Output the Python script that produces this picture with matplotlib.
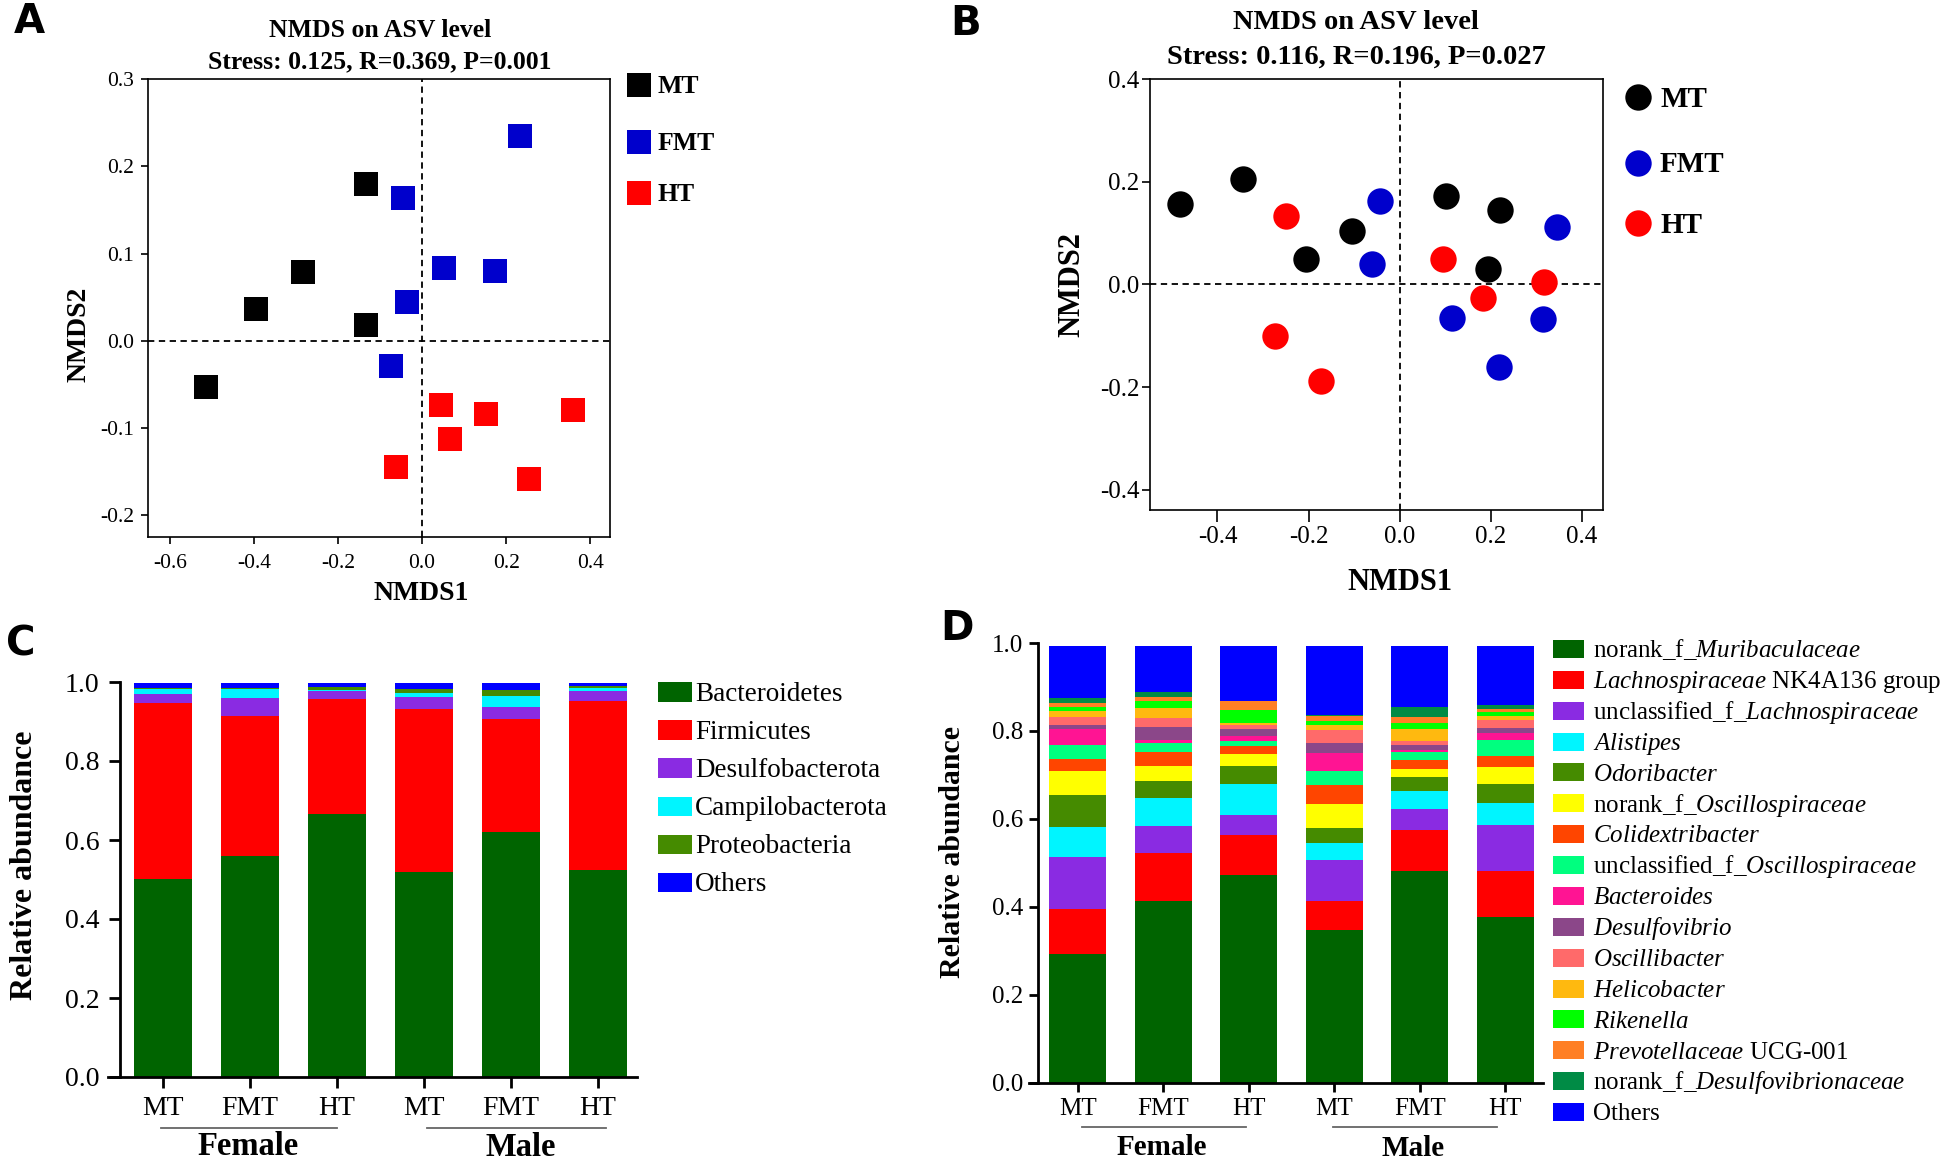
import numpy as np
import matplotlib.pyplot as plt
from matplotlib.lines import Line2D
from matplotlib.patches import Rectangle

plt.rcParams['font.family'] = ['Liberation Serif', 'DejaVu Serif']
plt.rcParams['axes.unicode_minus'] = False
plt.rcParams['mathtext.fontset'] = 'custom'
plt.rcParams['mathtext.rm'] = 'Liberation Serif'
plt.rcParams['mathtext.it'] = 'Liberation Serif:italic'

W, H = 1960, 1163

#%% NMDS scores, panel A (squares)
a_mt_x = [-0.133, -0.284, -0.394, -0.133, -0.514]
a_mt_y = [0.180, 0.079, 0.037, 0.018, -0.053]
a_fmt_x = [0.234, -0.046, 0.053, 0.173, -0.036, -0.074]
a_fmt_y = [0.235, 0.164, 0.084, 0.080, 0.044, -0.029]
a_ht_x = [0.044, 0.152, 0.359, 0.067, -0.062, 0.255]
a_ht_y = [-0.073, -0.084, -0.079, -0.112, -0.144, -0.158]

#%% NMDS scores, panel B (circles)
b_mt_x = [-0.482, -0.344, -0.206, -0.104, 0.101, 0.220, 0.194]
b_mt_y = [0.157, 0.206, 0.050, 0.105, 0.172, 0.145, 0.031]
b_fmt_x = [-0.044, -0.061, 0.344, 0.115, 0.315, 0.218]
b_fmt_y = [0.163, 0.040, 0.112, -0.066, -0.068, -0.160]
b_ht_x = [-0.249, 0.094, 0.317, 0.183, -0.273, -0.173]
b_ht_y = [0.134, 0.049, 0.004, -0.026, -0.101, -0.188]

group_names = ['MT', 'FMT', 'HT']
group_colors = ['#000000', '#0000CC', '#FF0000']

#%% Phylum level, panel C (Female MT, FMT, HT, Male MT, FMT, HT)
bar_labels = ['MT', 'FMT', 'HT', 'MT', 'FMT', 'HT']
bacteroidetes = [0.502, 0.559, 0.667, 0.520, 0.620, 0.524]
firmicutes = [0.444, 0.356, 0.289, 0.412, 0.286, 0.428]
desulfobacterota = [0.023, 0.044, 0.020, 0.029, 0.030, 0.024]
campilobacterota = [0.013, 0.023, 0.005, 0.012, 0.029, 0.009]
proteobacteria = [0.002, 0.002, 0.006, 0.009, 0.015, 0.005]
others_phylum = [0.013, 0.013, 0.010, 0.015, 0.017, 0.007]

phylum_names = ['Bacteroidetes', 'Firmicutes', 'Desulfobacterota',
                'Campilobacterota', 'Proteobacteria', 'Others']
phylum_colors = ['#006400', '#FF0000', '#8A2BE2', '#00F5FF', '#458B00', '#0000FF']

#%% Genus level, panel D
muribaculaceae = [0.293, 0.412, 0.471, 0.348, 0.482, 0.377]
lachno_nk4a136 = [0.101, 0.110, 0.093, 0.066, 0.092, 0.104]
uncl_lachno = [0.120, 0.061, 0.044, 0.093, 0.048, 0.106]
alistipes = [0.067, 0.064, 0.071, 0.039, 0.041, 0.049]
odoribacter = [0.074, 0.038, 0.042, 0.034, 0.032, 0.043]
norank_oscillo = [0.053, 0.034, 0.026, 0.054, 0.018, 0.039]
colidextribacter = [0.027, 0.032, 0.019, 0.042, 0.020, 0.026]
uncl_oscillo = [0.033, 0.022, 0.012, 0.033, 0.018, 0.036]
bacteroides = [0.036, 0.007, 0.011, 0.041, 0.005, 0.015]
desulfovibrio = [0.009, 0.030, 0.016, 0.023, 0.011, 0.012]
oscillibacter = [0.019, 0.020, 0.009, 0.028, 0.009, 0.017]
helicobacter = [0.014, 0.021, 0.004, 0.013, 0.029, 0.011]
rikenella = [0.008, 0.018, 0.029, 0.008, 0.013, 0.009]
prevotellaceae = [0.010, 0.008, 0.020, 0.012, 0.014, 0.006]
desulfovibrionaceae = [0.010, 0.011, 0.002, 0.002, 0.023, 0.009]
others_genus = [0.120, 0.106, 0.125, 0.158, 0.139, 0.135]

genus_names = ['norank_f_$\\mathit{Muribaculaceae}$',
               '$\\mathit{Lachnospiraceae}$ NK4A136 group',
               'unclassified_f_$\\mathit{Lachnospiraceae}$',
               '$\\mathit{Alistipes}$',
               '$\\mathit{Odoribacter}$',
               'norank_f_$\\mathit{Oscillospiraceae}$',
               '$\\mathit{Colidextribacter}$',
               'unclassified_f_$\\mathit{Oscillospiraceae}$',
               '$\\mathit{Bacteroides}$',
               '$\\mathit{Desulfovibrio}$',
               '$\\mathit{Oscillibacter}$',
               '$\\mathit{Helicobacter}$',
               '$\\mathit{Rikenella}$',
               '$\\mathit{Prevotellaceae}$ UCG-001',
               'norank_f_$\\mathit{Desulfovibrionaceae}$',
               'Others']
genus_colors = ['#006400', '#FF0000', '#8A2BE2', '#00F5FF', '#458B00', '#FFFF00',
                '#FF4500', '#00FF7F', '#FF1493', '#8B4789', '#FF6A6A', '#FFB90F',
                '#00FF00', '#FF7F24', '#008B45', '#0000FF']


#%% helpers (pixel coordinates of the 1960x1163 canvas)
def px_rect(l, t, r, b):
    return [l / W, 1 - b / H, (r - l) / W, (b - t) / H]


def ftext(x, y, s, **kw):
    return fig.text(x / W, 1 - y / H, s, **kw)


def em(size):
    return size * 100 / 72


def marker_legend(mx, ys, marker, ms, tx, size):
    for y, lab, col in zip(ys, group_names, group_colors):
        fig.add_artist(Line2D([mx / W], [1 - y / H], marker=marker, ms=ms, color=col,
                              ls='none', mew=0, transform=fig.transFigure))
        ftext(tx, y + 0.33 * em(size), lab, fontsize=size, fontweight='bold', va='baseline')


def patch_legend(x0, w, h, ys, labels, colors, tx, size):
    for y, lab, col in zip(ys, labels, colors):
        fig.add_artist(Rectangle((x0 / W, 1 - (y + h / 2) / H), w / W, h / H,
                                 color=col, lw=0, transform=fig.transFigure))
        ftext(tx, y + 0.33 * em(size), lab, fontsize=size, va='baseline')


def nmds_axes(ax, xs, ys, marker, ms, xt, yt, lsize):
    ax.axhline(0, color='black', lw=1.3, ls=(0, (3.5, 2.5)), zorder=1)
    ax.axvline(0, color='black', lw=1.3, ls=(0, (3.5, 2.5)), zorder=1)
    for x, y, col in zip(xs, ys, group_colors):
        ax.scatter(x, y, marker=marker, s=ms ** 2, c=col, linewidths=0, zorder=3)
    ax.set_xticks(xt)
    ax.set_xticklabels(['%.1f' % v for v in xt])
    ax.set_yticks(yt)
    ax.set_yticklabels(['%.1f' % v for v in yt])
    for sp in ax.spines.values():
        sp.set_linewidth(1.2)
    ax.tick_params(direction='out', labelsize=lsize, width=1.2)


def stacked_bars(ax, series, colors, width):
    xpos = np.arange(len(bar_labels))
    bottom = np.zeros(len(bar_labels))
    for vals, col in zip(series, colors):
        ax.bar(xpos, vals, width, bottom=bottom, color=col, lw=0)
        bottom += np.array(vals)
    ax.set_xticks(xpos)
    ax.set_xticklabels(bar_labels)
    ax.set_ylim(0, 1.0)
    ax.set_yticks([0, 0.2, 0.4, 0.6, 0.8, 1.0])
    ax.set_yticklabels(['0.0', '0.2', '0.4', '0.6', '0.8', '1.0'])
    ax.spines[['right', 'top']].set_visible(False)
    ax.spines['left'].set_linewidth(2)
    ax.spines['bottom'].set_linewidth(2)


fig = plt.figure(figsize=(W / 100, H / 100), dpi=100)

#%% Panel A
axA = fig.add_axes(px_rect(148, 79, 610, 537))
nmds_axes(axA, [a_mt_x, a_fmt_x, a_ht_x], [a_mt_y, a_fmt_y, a_ht_y], 's', 17.6,
          [-0.6, -0.4, -0.2, 0.0, 0.2, 0.4], [-0.2, -0.1, 0.0, 0.1, 0.2, 0.3], 15.5)
axA.set_xlim(-0.652, 0.447)
axA.set_ylim(-0.2247, 0.3)
axA.tick_params(length=5)
axA.tick_params(axis='x', pad=7)
axA.tick_params(axis='y', pad=5)
ftext(380, 37, 'NMDS on ASV level', fontsize=18.5, fontweight='bold', ha='center', va='baseline')
ftext(380, 68, 'Stress: 0.125, R=0.369, P=0.001', fontsize=18.5, fontweight='bold',
      ha='center', va='baseline')
ftext(79, 334, 'NMDS2', fontsize=20, fontweight='bold', rotation=90, ha='center', va='center')
ftext(421, 600, 'NMDS1', fontsize=20, fontweight='bold', ha='center', va='baseline')
marker_legend(639, [84.6, 142, 193], 's', 17.6, 658, 18.5)

#%% Panel B
axB = fig.add_axes(px_rect(1150, 79, 1603, 510))
nmds_axes(axB, [b_mt_x, b_fmt_x, b_ht_x], [b_mt_y, b_fmt_y, b_ht_y], 'o', 19,
          [-0.4, -0.2, 0.0, 0.2, 0.4], [-0.4, -0.2, 0.0, 0.2, 0.4], 18)
axB.set_xlim(-0.548, 0.446)
axB.set_ylim(-0.439, 0.4)
axB.tick_params(axis='x', length=8.5, pad=3)
axB.tick_params(axis='y', length=6, pad=1.5)
ftext(1356, 29, 'NMDS on ASV level', fontsize=20.5, fontweight='bold', ha='center', va='baseline')
ftext(1356, 63.5, 'Stress: 0.116, R=0.196, P=0.027', fontsize=20.5, fontweight='bold',
      ha='center', va='baseline')
ftext(1072, 285, 'NMDS2', fontsize=22, fontweight='bold', rotation=90, ha='center', va='center')
ftext(1400, 590, 'NMDS1', fontsize=22, fontweight='bold', ha='center', va='baseline')
marker_legend(1638, [97, 162.5, 223], 'o', 19, 1660, 21)

#%% Panel C
axC = fig.add_axes(px_rect(108, 682, 637, 1077))
stacked_bars(axC, [bacteroidetes, firmicutes, desulfobacterota, campilobacterota,
                   proteobacteria, others_phylum], phylum_colors, 0.675)
axC.set_xlim(-0.632, 5.45)
axC.spines['left'].set_position(('data', -0.494))
axC.tick_params(direction='out', length=8, width=2, labelsize=20)
axC.tick_params(axis='x', pad=6)
axC.tick_params(axis='y', pad=7)
tr = axC.get_xaxis_transform()
axC.plot([-0.02, 2.0], [-0.129, -0.129], transform=tr, clip_on=False, color='#666666', lw=1.3)
axC.plot([3.03, 5.09], [-0.129, -0.129], transform=tr, clip_on=False, color='#666666', lw=1.3)
axC.text(0.98, -0.1975, 'Female', transform=tr, fontsize=23.5, fontweight='bold',
         ha='center', va='baseline')
axC.text(4.11, -0.2, 'Male', transform=tr, fontsize=23.5, fontweight='bold',
         ha='center', va='baseline')
ftext(25, 865, 'Relative abundance', fontsize=23, fontweight='bold', rotation=90,
      ha='center', va='center')
patch_legend(658, 34, 19.5, [692 + 38.1 * i for i in range(6)], phylum_names,
             phylum_colors, 695, 19.5)

#%% Panel D
axD = fig.add_axes(px_rect(1029, 643, 1543, 1082.5))
stacked_bars(axD, [muribaculaceae, lachno_nk4a136, uncl_lachno, alistipes, odoribacter,
                   norank_oscillo, colidextribacter, uncl_oscillo, bacteroides,
                   desulfovibrio, oscillibacter, helicobacter, rikenella, prevotellaceae,
                   desulfovibrionaceae, others_genus], genus_colors, 0.667)
axD.set_xlim(-0.573, 5.44)
axD.spines['left'].set_position(('data', -0.468))
axD.tick_params(direction='out', length=6.5, width=2, labelsize=18)
axD.tick_params(axis='x', pad=5)
axD.tick_params(axis='y', pad=4)
tr = axD.get_xaxis_transform()
axD.plot([0.047, 1.965], [-0.101, -0.101], transform=tr, clip_on=False, color='#666666', lw=1.3)
axD.plot([2.98, 4.90], [-0.101, -0.101], transform=tr, clip_on=False, color='#666666', lw=1.3)
axD.text(0.98, -0.165, 'Female', transform=tr, fontsize=21, fontweight='bold',
         ha='center', va='baseline')
axD.text(3.92, -0.167, 'Male', transform=tr, fontsize=21, fontweight='bold',
         ha='center', va='baseline')
ftext(952, 852, 'Relative abundance', fontsize=21.5, fontweight='bold', rotation=90,
      ha='center', va='center')
patch_legend(1553, 31, 18, [649 + 30.87 * i for i in range(16)], genus_names,
             genus_colors, 1593, 18)

#%% Panel letters
for lab, x, y in [('A', 14, 2), ('B', 950, 4), ('C', 6, 625), ('D', 940, 609)]:
    ftext(x, y, lab, fontsize=29, fontweight='bold', family='DejaVu Sans', va='top')

fig.savefig('out.png', dpi=100)
